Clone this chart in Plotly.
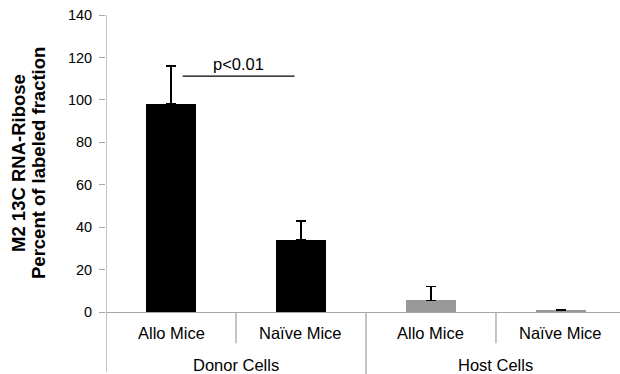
import plotly.graph_objects as go

groups = ["Donor Cells", "Donor Cells", "Host Cells", "Host Cells"]
mice = ["Allo Mice", "Naïve Mice", "Allo Mice", "Naïve Mice"]
values = [98, 34, 5.5, 0.8]
errors = [18, 9, 6.5, 0.4]
colors = ["#000000", "#000000", "#999999", "#999999"]
group_names = ["Donor Cells", "Host Cells"]
yticks = [0, 20, 40, 60, 80, 100, 120, 140]
title_lines = ["M2 13C RNA-Ribose", "Percent of labeled fraction"]

FONT = "Liberation Sans, Arial, sans-serif"
AX = "#a6a6a6"
xs = list(range(len(values)))

fig = go.Figure(go.Bar(
    x=xs, y=values, width=0.39,
    marker=dict(color=colors, line=dict(width=0)),
    error_y=dict(type="data", array=errors, arrayminus=[0]*4, symmetric=False,
                 color="#000000", thickness=1.6, width=5),
))

shapes = []
# y axis line extended below
shapes.append(dict(type="line", xref="x", yref="paper", x0=-0.5, x1=-0.5, y0=-0.2, y1=1.0,
                   line=dict(color=AX, width=1.3)))
# dividers
for xv, y0 in [(0.5, -0.105), (2.5, -0.105), (1.5, -0.22)]:
    shapes.append(dict(type="line", xref="x", yref="paper", x0=xv, x1=xv, y0=y0, y1=0,
                       line=dict(color=AX, width=1.3)))
# significance line
shapes.append(dict(type="line", xref="x", yref="y", x0=0.09, x1=0.95, y0=111.2, y1=111.2,
                   line=dict(color="#000000", width=1.3)))

annotations = []
for xv, m in zip(xs, mice):
    annotations.append(dict(x=xv, y=-0.072, xref="x", yref="paper", text=m, showarrow=False,
                            font=dict(family=FONT, size=16.5, color="#000000"), yanchor="middle"))
for i, g in enumerate(group_names):
    annotations.append(dict(x=0.5 + 2*i, y=-0.18, xref="x", yref="paper", text=g, showarrow=False,
                            font=dict(family=FONT, size=16.5, color="#000000"), yanchor="middle"))
annotations.append(dict(x=0.52, y=116.7, xref="x", yref="y", text="p<0.01", showarrow=False,
                        font=dict(family=FONT, size=16.5, color="#000000"), yanchor="middle"))
for line, xs_shift in zip(title_lines, [-87.5, -67.5]):
    annotations.append(dict(x=0, y=0.5, xref="paper", yref="paper", text="<b>%s</b>" % line,
                            showarrow=False, textangle=-90, xanchor="center", yanchor="middle",
                            xshift=xs_shift, font=dict(family=FONT, size=18.5, color="#000000")))

fig.update_layout(
    width=620, height=374,
    margin=dict(l=106, r=0, t=15, b=62, autoexpand=False),
    paper_bgcolor="white", plot_bgcolor="white",
    showlegend=False,
    bargap=0,
    font=dict(family=FONT, size=14.5, color="#000000"),
    xaxis=dict(range=[-0.5, 3.454], showticklabels=False, ticks="", showgrid=False,
               zeroline=False, showline=True, linecolor=AX, linewidth=1.3, fixedrange=True,
               automargin=False),
    yaxis=dict(range=[0, 140], tickvals=yticks, ticks="outside", ticklen=6, tickcolor=AX,
               tickwidth=1.3, showgrid=False, zeroline=False, showline=False, automargin=False,
               ticklabelstandoff=4,
               tickfont=dict(family=FONT, size=14.5, color="#000000")),
    shapes=shapes, annotations=annotations,
)

fig.write_html("out.html", config={"displayModeBar": False},
               post_script="document.body.style.margin='0';document.body.style.overflow='hidden';")
